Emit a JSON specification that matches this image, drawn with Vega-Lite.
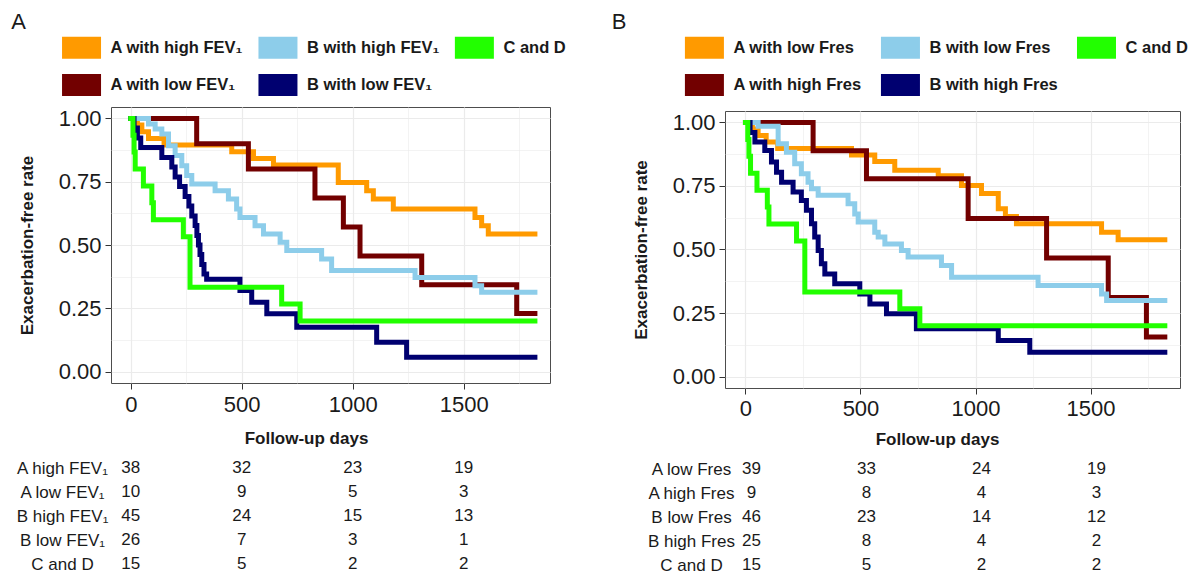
{
  "$schema": "https://vega.github.io/schema/vega-lite/v6.json",
  "padding": {"left": 11, "top": 11, "right": 0, "bottom": 0},
  "config": {
    "font": "Liberation Sans",
    "view": {"stroke": "#4d4d4d", "strokeWidth": 1},
    "axis": {"labelFont": "Liberation Sans", "titleFont": "Liberation Sans"},
    "title": {"font": "Liberation Sans"}
  },
  "datasets": {
    "legA": [
      {"label": "A with high FEV₁", "col": 0, "row": 0},
      {"label": "B with high FEV₁", "col": 1, "row": 0},
      {"label": "C and D", "col": 2, "row": 0},
      {"label": "A with low FEV₁", "col": 0, "row": 1},
      {"label": "B with low FEV₁", "col": 1, "row": 1}
    ],
    "legB": [
      {"label": "A with low Fres", "col": 0, "row": 0},
      {"label": "B with low Fres", "col": 1, "row": 0},
      {"label": "C and D", "col": 2, "row": 0},
      {"label": "A with high Fres", "col": 0, "row": 1},
      {"label": "B with high Fres", "col": 1, "row": 1}
    ],
    "kmA": [
      {"group": "A with high FEV₁", "day": 0, "surv": 1},
      {"group": "A with high FEV₁", "day": 30, "surv": 0.974},
      {"group": "A with high FEV₁", "day": 50, "surv": 0.947},
      {"group": "A with high FEV₁", "day": 80, "surv": 0.921},
      {"group": "A with high FEV₁", "day": 150, "surv": 0.895},
      {"group": "A with high FEV₁", "day": 455, "surv": 0.868},
      {"group": "A with high FEV₁", "day": 553, "surv": 0.842},
      {"group": "A with high FEV₁", "day": 643, "surv": 0.816},
      {"group": "A with high FEV₁", "day": 935, "surv": 0.747},
      {"group": "A with high FEV₁", "day": 1063, "surv": 0.714},
      {"group": "A with high FEV₁", "day": 1093, "surv": 0.682},
      {"group": "A with high FEV₁", "day": 1183, "surv": 0.642},
      {"group": "A with high FEV₁", "day": 1551, "surv": 0.609},
      {"group": "A with high FEV₁", "day": 1581, "surv": 0.576},
      {"group": "A with high FEV₁", "day": 1611, "surv": 0.543},
      {"group": "A with high FEV₁", "day": 1821, "surv": 0.543},
      {"group": "A with low FEV₁", "day": 0, "surv": 1},
      {"group": "A with low FEV₁", "day": 297, "surv": 0.9},
      {"group": "A with low FEV₁", "day": 530, "surv": 0.8},
      {"group": "A with low FEV₁", "day": 830, "surv": 0.686},
      {"group": "A with low FEV₁", "day": 958, "surv": 0.571},
      {"group": "A with low FEV₁", "day": 1033, "surv": 0.457},
      {"group": "A with low FEV₁", "day": 1311, "surv": 0.343},
      {"group": "A with low FEV₁", "day": 1739, "surv": 0.229},
      {"group": "A with low FEV₁", "day": 1821, "surv": 0.229},
      {"group": "B with high FEV₁", "day": 0, "surv": 1},
      {"group": "B with high FEV₁", "day": 80, "surv": 0.978},
      {"group": "B with high FEV₁", "day": 110, "surv": 0.958},
      {"group": "B with high FEV₁", "day": 140, "surv": 0.938},
      {"group": "B with high FEV₁", "day": 170, "surv": 0.892},
      {"group": "B with high FEV₁", "day": 200, "surv": 0.853},
      {"group": "B with high FEV₁", "day": 230, "surv": 0.813},
      {"group": "B with high FEV₁", "day": 252, "surv": 0.774},
      {"group": "B with high FEV₁", "day": 275, "surv": 0.741},
      {"group": "B with high FEV₁", "day": 380, "surv": 0.714},
      {"group": "B with high FEV₁", "day": 440, "surv": 0.682},
      {"group": "B with high FEV₁", "day": 477, "surv": 0.642},
      {"group": "B with high FEV₁", "day": 492, "surv": 0.609},
      {"group": "B with high FEV₁", "day": 560, "surv": 0.576},
      {"group": "B with high FEV₁", "day": 598, "surv": 0.543},
      {"group": "B with high FEV₁", "day": 673, "surv": 0.511},
      {"group": "B with high FEV₁", "day": 703, "surv": 0.478},
      {"group": "B with high FEV₁", "day": 860, "surv": 0.445},
      {"group": "B with high FEV₁", "day": 905, "surv": 0.399},
      {"group": "B with high FEV₁", "day": 1281, "surv": 0.372},
      {"group": "B with high FEV₁", "day": 1551, "surv": 0.339},
      {"group": "B with high FEV₁", "day": 1581, "surv": 0.313},
      {"group": "B with high FEV₁", "day": 1821, "surv": 0.313},
      {"group": "B with low FEV₁", "day": 0, "surv": 1},
      {"group": "B with low FEV₁", "day": 15, "surv": 0.962},
      {"group": "B with low FEV₁", "day": 30, "surv": 0.923},
      {"group": "B with low FEV₁", "day": 45, "surv": 0.885},
      {"group": "B with low FEV₁", "day": 140, "surv": 0.846},
      {"group": "B with low FEV₁", "day": 185, "surv": 0.808},
      {"group": "B with low FEV₁", "day": 200, "surv": 0.769},
      {"group": "B with low FEV₁", "day": 220, "surv": 0.731},
      {"group": "B with low FEV₁", "day": 245, "surv": 0.692},
      {"group": "B with low FEV₁", "day": 262, "surv": 0.654},
      {"group": "B with low FEV₁", "day": 275, "surv": 0.615},
      {"group": "B with low FEV₁", "day": 290, "surv": 0.577},
      {"group": "B with low FEV₁", "day": 298, "surv": 0.538},
      {"group": "B with low FEV₁", "day": 305, "surv": 0.5},
      {"group": "B with low FEV₁", "day": 312, "surv": 0.462},
      {"group": "B with low FEV₁", "day": 320, "surv": 0.423},
      {"group": "B with low FEV₁", "day": 330, "surv": 0.385},
      {"group": "B with low FEV₁", "day": 342, "surv": 0.365},
      {"group": "B with low FEV₁", "day": 492, "surv": 0.32},
      {"group": "B with low FEV₁", "day": 545, "surv": 0.274},
      {"group": "B with low FEV₁", "day": 613, "surv": 0.228},
      {"group": "B with low FEV₁", "day": 748, "surv": 0.175},
      {"group": "B with low FEV₁", "day": 1108, "surv": 0.116},
      {"group": "B with low FEV₁", "day": 1243, "surv": 0.057},
      {"group": "B with low FEV₁", "day": 1821, "surv": 0.057},
      {"group": "C and D", "day": 0, "surv": 1},
      {"group": "C and D", "day": 10, "surv": 0.933},
      {"group": "C and D", "day": 15, "surv": 0.867},
      {"group": "C and D", "day": 20, "surv": 0.8},
      {"group": "C and D", "day": 57, "surv": 0.733},
      {"group": "C and D", "day": 95, "surv": 0.667},
      {"group": "C and D", "day": 102, "surv": 0.6},
      {"group": "C and D", "day": 237, "surv": 0.533},
      {"group": "C and D", "day": 267, "surv": 0.333},
      {"group": "C and D", "day": 680, "surv": 0.267},
      {"group": "C and D", "day": 763, "surv": 0.2},
      {"group": "C and D", "day": 1821, "surv": 0.2}
    ],
    "kmB": [
      {"group": "A with low Fres", "day": 0, "surv": 1},
      {"group": "A with low Fres", "day": 30, "surv": 0.974},
      {"group": "A with low Fres", "day": 55, "surv": 0.949},
      {"group": "A with low Fres", "day": 90, "surv": 0.923},
      {"group": "A with low Fres", "day": 140, "surv": 0.897},
      {"group": "A with low Fres", "day": 461, "surv": 0.872},
      {"group": "A with low Fres", "day": 562, "surv": 0.846},
      {"group": "A with low Fres", "day": 649, "surv": 0.812},
      {"group": "A with low Fres", "day": 838, "surv": 0.79},
      {"group": "A with low Fres", "day": 939, "surv": 0.752},
      {"group": "A with low Fres", "day": 1026, "surv": 0.72},
      {"group": "A with low Fres", "day": 1099, "surv": 0.66},
      {"group": "A with low Fres", "day": 1130, "surv": 0.63},
      {"group": "A with low Fres", "day": 1178, "surv": 0.601},
      {"group": "A with low Fres", "day": 1548, "surv": 0.568},
      {"group": "A with low Fres", "day": 1620, "surv": 0.538},
      {"group": "A with low Fres", "day": 1823, "surv": 0.538},
      {"group": "A with high Fres", "day": 0, "surv": 1},
      {"group": "A with high Fres", "day": 294, "surv": 0.889},
      {"group": "A with high Fres", "day": 526, "surv": 0.778},
      {"group": "A with high Fres", "day": 968, "surv": 0.622},
      {"group": "A with high Fres", "day": 1309, "surv": 0.467},
      {"group": "A with high Fres", "day": 1577, "surv": 0.311},
      {"group": "A with high Fres", "day": 1743, "surv": 0.156},
      {"group": "A with high Fres", "day": 1823, "surv": 0.156},
      {"group": "B with low Fres", "day": 0, "surv": 1},
      {"group": "B with low Fres", "day": 55, "surv": 0.985},
      {"group": "B with low Fres", "day": 142, "surv": 0.916},
      {"group": "B with low Fres", "day": 178, "surv": 0.883},
      {"group": "B with low Fres", "day": 214, "surv": 0.837},
      {"group": "B with low Fres", "day": 243, "surv": 0.798},
      {"group": "B with low Fres", "day": 272, "surv": 0.765},
      {"group": "B with low Fres", "day": 287, "surv": 0.739},
      {"group": "B with low Fres", "day": 316, "surv": 0.713},
      {"group": "B with low Fres", "day": 446, "surv": 0.68},
      {"group": "B with low Fres", "day": 475, "surv": 0.64},
      {"group": "B with low Fres", "day": 490, "surv": 0.608},
      {"group": "B with low Fres", "day": 562, "surv": 0.568},
      {"group": "B with low Fres", "day": 577, "surv": 0.549},
      {"group": "B with low Fres", "day": 606, "surv": 0.522},
      {"group": "B with low Fres", "day": 678, "surv": 0.496},
      {"group": "B with low Fres", "day": 707, "surv": 0.47},
      {"group": "B with low Fres", "day": 852, "surv": 0.437},
      {"group": "B with low Fres", "day": 896, "surv": 0.391},
      {"group": "B with low Fres", "day": 1272, "surv": 0.358},
      {"group": "B with low Fres", "day": 1548, "surv": 0.325},
      {"group": "B with low Fres", "day": 1570, "surv": 0.299},
      {"group": "B with low Fres", "day": 1823, "surv": 0.299},
      {"group": "B with high Fres", "day": 0, "surv": 1},
      {"group": "B with high Fres", "day": 20, "surv": 0.96},
      {"group": "B with high Fres", "day": 41, "surv": 0.923},
      {"group": "B with high Fres", "day": 84, "surv": 0.89},
      {"group": "B with high Fres", "day": 113, "surv": 0.844},
      {"group": "B with high Fres", "day": 135, "surv": 0.804},
      {"group": "B with high Fres", "day": 157, "surv": 0.765},
      {"group": "B with high Fres", "day": 207, "surv": 0.726},
      {"group": "B with high Fres", "day": 243, "surv": 0.693},
      {"group": "B with high Fres", "day": 265, "surv": 0.654},
      {"group": "B with high Fres", "day": 287, "surv": 0.601},
      {"group": "B with high Fres", "day": 301, "surv": 0.549},
      {"group": "B with high Fres", "day": 316, "surv": 0.496},
      {"group": "B with high Fres", "day": 330, "surv": 0.444},
      {"group": "B with high Fres", "day": 345, "surv": 0.404},
      {"group": "B with high Fres", "day": 388, "surv": 0.365},
      {"group": "B with high Fres", "day": 497, "surv": 0.325},
      {"group": "B with high Fres", "day": 541, "surv": 0.286},
      {"group": "B with high Fres", "day": 613, "surv": 0.247},
      {"group": "B with high Fres", "day": 743, "surv": 0.188},
      {"group": "B with high Fres", "day": 1099, "surv": 0.142},
      {"group": "B with high Fres", "day": 1236, "surv": 0.096},
      {"group": "B with high Fres", "day": 1823, "surv": 0.096},
      {"group": "C and D", "day": 0, "surv": 1},
      {"group": "C and D", "day": 10, "surv": 0.933},
      {"group": "C and D", "day": 15, "surv": 0.867},
      {"group": "C and D", "day": 22, "surv": 0.8},
      {"group": "C and D", "day": 50, "surv": 0.733},
      {"group": "C and D", "day": 95, "surv": 0.667},
      {"group": "C and D", "day": 102, "surv": 0.6},
      {"group": "C and D", "day": 222, "surv": 0.533},
      {"group": "C and D", "day": 258, "surv": 0.333},
      {"group": "C and D", "day": 671, "surv": 0.267},
      {"group": "C and D", "day": 758, "surv": 0.2},
      {"group": "C and D", "day": 1823, "surv": 0.2}
    ],
    "riskA": [
      {"row": "A high FEV₁", "day": 0, "n": 38}, {"row": "A high FEV₁", "day": 500, "n": 32}, {"row": "A high FEV₁", "day": 1000, "n": 23}, {"row": "A high FEV₁", "day": 1500, "n": 19},
      {"row": "A low FEV₁", "day": 0, "n": 10}, {"row": "A low FEV₁", "day": 500, "n": 9}, {"row": "A low FEV₁", "day": 1000, "n": 5}, {"row": "A low FEV₁", "day": 1500, "n": 3},
      {"row": "B high FEV₁", "day": 0, "n": 45}, {"row": "B high FEV₁", "day": 500, "n": 24}, {"row": "B high FEV₁", "day": 1000, "n": 15}, {"row": "B high FEV₁", "day": 1500, "n": 13},
      {"row": "B low FEV₁", "day": 0, "n": 26}, {"row": "B low FEV₁", "day": 500, "n": 7}, {"row": "B low FEV₁", "day": 1000, "n": 3}, {"row": "B low FEV₁", "day": 1500, "n": 1},
      {"row": "C and D", "day": 0, "n": 15}, {"row": "C and D", "day": 500, "n": 5}, {"row": "C and D", "day": 1000, "n": 2}, {"row": "C and D", "day": 1500, "n": 2}
    ],
    "riskB": [
      {"row": "A low Fres", "day": 0, "n": 39}, {"row": "A low Fres", "day": 500, "n": 33}, {"row": "A low Fres", "day": 1000, "n": 24}, {"row": "A low Fres", "day": 1500, "n": 19},
      {"row": "A high Fres", "day": 0, "n": 9}, {"row": "A high Fres", "day": 500, "n": 8}, {"row": "A high Fres", "day": 1000, "n": 4}, {"row": "A high Fres", "day": 1500, "n": 3},
      {"row": "B low Fres", "day": 0, "n": 46}, {"row": "B low Fres", "day": 500, "n": 23}, {"row": "B low Fres", "day": 1000, "n": 14}, {"row": "B low Fres", "day": 1500, "n": 12},
      {"row": "B high Fres", "day": 0, "n": 25}, {"row": "B high Fres", "day": 500, "n": 8}, {"row": "B high Fres", "day": 1000, "n": 4}, {"row": "B high Fres", "day": 1500, "n": 2},
      {"row": "C and D", "day": 0, "n": 15}, {"row": "C and D", "day": 500, "n": 5}, {"row": "C and D", "day": 1000, "n": 2}, {"row": "C and D", "day": 1500, "n": 2}
    ]
  },
  "resolve": {"scale": {"color": "independent"}},
  "spacing": 45,
  "hconcat": [
    {
      "title": {"text": "A", "anchor": "start", "fontSize": 22, "fontWeight": "normal", "color": "#1a1a1a", "offset": -5, "dx": -5},
      "spacing": 9,
      "vconcat": [
        {
          "width": 439,
          "height": 67.4,
          "view": {"stroke": null, "fill": "transparent"},
          "data": {"name": "legA"},
          "encoding": {
            "x": {"field": "col", "type": "quantitative", "scale": {"domain": [0.150, 2.385], "nice": false, "zero": false}, "axis": null},
            "y": {"field": "row", "type": "quantitative", "scale": {"domain": [-0.5, 1.302], "nice": false, "zero": false, "reverse": true}, "axis": null}
          },
          "layer": [
            {
              "mark": {"type": "point", "shape": "M-1,-0.564H1V0.564H-1Z", "size": 1521, "filled": true, "opacity": 1},
              "encoding": {
                "color": {
                  "field": "label", "type": "nominal",
                  "scale": {
                    "domain": ["A with high FEV₁", "B with high FEV₁", "C and D", "A with low FEV₁", "B with low FEV₁"],
                    "range": ["#FF9A00", "#8DCDEA", "#22FF00", "#720000", "#000070"]
                  },
                  "legend": null
                }
              }
            },
            {
              "mark": {"type": "text", "align": "left", "baseline": "middle", "dx": 29, "fontSize": 16.5, "fontWeight": "bold", "color": "#1a1a1a", "font": "Liberation Sans"},
              "encoding": {"text": {"field": "label"}}
            }
          ]
        },
        {
          "width": 439,
          "height": 276,
          "data": {"name": "kmA"},
          "mark": {"type": "line", "interpolate": "step-after", "strokeWidth": 5, "strokeJoin": "miter", "strokeCap": "square"},
          "encoding": {
            "x": {
              "field": "day", "type": "quantitative",
              "scale": {"domain": [-89, 1889], "nice": false, "zero": false},
              "axis": {
                "values": [0, 250, 500, 750, 1000, 1250, 1500, 1750],
                "format": "d",
                "labelExpr": "datum.value % 500 === 0 ? datum.label : ''",
                "labelOverlap": false,
                "labelFontSize": 22, "labelColor": "#1a1a1a", "labelPadding": 5,
                "tickSize": 6, "tickColor": "#333333",
                "tickOpacity": {"condition": {"test": "datum.value % 500 === 0", "value": 1}, "value": 0},
                "domain": false,
                "grid": true, "gridColor": "#EBEBEB",
                "gridWidth": {"condition": {"test": "datum.value % 500 === 0", "value": 1.2}, "value": 0.6},
                "title": "Follow-up days", "titleFontSize": 17, "titleFontWeight": "bold", "titleColor": "#1a1a1a",
                "titlePadding": 15, "titleX": 195
              }
            },
            "y": {
              "field": "surv", "type": "quantitative",
              "scale": {"domain": [-0.045, 1.045], "nice": false, "zero": false},
              "axis": {
                "values": [0, 0.125, 0.25, 0.375, 0.5, 0.625, 0.75, 0.875, 1],
                "labelExpr": "round(datum.value * 8) % 2 === 0 ? format(datum.value, '.2f') : ''",
                "labelOverlap": false,
                "labelFontSize": 22, "labelColor": "#1a1a1a", "labelPadding": 4,
                "tickSize": 6, "tickColor": "#333333",
                "tickOpacity": {"condition": {"test": "round(datum.value * 8) % 2 === 0", "value": 1}, "value": 0},
                "domain": false,
                "grid": true, "gridColor": "#EBEBEB",
                "gridWidth": {"condition": {"test": "round(datum.value * 8) % 2 === 0", "value": 1.2}, "value": 0.6},
                "title": "Exacerbation-free rate", "titleFontSize": 17, "titleFontWeight": "bold", "titleColor": "#1a1a1a",
                "titlePadding": 22
              }
            },
            "color": {
              "field": "group", "type": "nominal",
              "scale": {
                "domain": ["A with high FEV₁", "B with high FEV₁", "C and D", "A with low FEV₁", "B with low FEV₁"],
                "range": ["#FFA500", "#87CEEB", "#00FF00", "#8B0000", "#000080"]
              },
              "legend": null
            }
          }
        },
        {
          "width": 439,
          "height": 120,
          "view": {"stroke": null},
          "data": {"name": "riskA"},
          "mark": {"type": "text", "fontSize": 17, "color": "#1a1a1a", "font": "Liberation Sans"},
          "encoding": {
            "x": {"field": "day", "type": "quantitative", "scale": {"domain": [-89, 1889], "nice": false, "zero": false}, "axis": null},
            "y": {
              "field": "row", "type": "nominal",
              "sort": ["A high FEV₁", "A low FEV₁", "B high FEV₁", "B low FEV₁", "C and D"],
              "axis": {"title": null, "domain": false, "ticks": false, "tickSize": 0, "grid": false, "labelAlign": "center", "labelPadding": 49, "labelFontSize": 17, "labelColor": "#1a1a1a"}
            },
            "text": {"field": "n", "type": "quantitative"}
          }
        }
      ]
    },
    {
      "title": {"text": "B", "anchor": "start", "fontSize": 22, "fontWeight": "normal", "color": "#1a1a1a", "offset": -5, "dx": -20},
      "spacing": 9,
      "vconcat": [
        {
          "width": 455,
          "height": 71.4,
          "view": {"stroke": null, "fill": "transparent"},
          "data": {"name": "legB"},
          "encoding": {
            "x": {"field": "col", "type": "quantitative", "scale": {"domain": [0.105, 2.426], "nice": false, "zero": false}, "axis": null},
            "y": {"field": "row", "type": "quantitative", "scale": {"domain": [-0.5, 1.409], "nice": false, "zero": false, "reverse": true}, "axis": null}
          },
          "layer": [
            {
              "mark": {"type": "point", "shape": "M-1,-0.564H1V0.564H-1Z", "size": 1521, "filled": true, "opacity": 1},
              "encoding": {
                "color": {
                  "field": "label", "type": "nominal",
                  "scale": {
                    "domain": ["A with low Fres", "B with low Fres", "C and D", "A with high Fres", "B with high Fres"],
                    "range": ["#FF9A00", "#8DCDEA", "#22FF00", "#720000", "#000070"]
                  },
                  "legend": null
                }
              }
            },
            {
              "mark": {"type": "text", "align": "left", "baseline": "middle", "dx": 29, "fontSize": 16.5, "fontWeight": "bold", "color": "#1a1a1a", "font": "Liberation Sans"},
              "encoding": {"text": {"field": "label"}}
            }
          ]
        },
        {
          "width": 455,
          "height": 277,
          "data": {"name": "kmB"},
          "mark": {"type": "line", "interpolate": "step-after", "strokeWidth": 5, "strokeJoin": "miter", "strokeCap": "square"},
          "encoding": {
            "x": {
              "field": "day", "type": "quantitative",
              "scale": {"domain": [-89, 1889], "nice": false, "zero": false},
              "axis": {
                "values": [0, 250, 500, 750, 1000, 1250, 1500, 1750],
                "format": "d",
                "labelExpr": "datum.value % 500 === 0 ? datum.label : ''",
                "labelOverlap": false,
                "labelFontSize": 22, "labelColor": "#1a1a1a", "labelPadding": 4,
                "tickSize": 6, "tickColor": "#333333",
                "tickOpacity": {"condition": {"test": "datum.value % 500 === 0", "value": 1}, "value": 0},
                "domain": false,
                "grid": true, "gridColor": "#EBEBEB",
                "gridWidth": {"condition": {"test": "datum.value % 500 === 0", "value": 1.2}, "value": 0.6},
                "title": "Follow-up days", "titleFontSize": 17, "titleFontWeight": "bold", "titleColor": "#1a1a1a",
                "titlePadding": 12, "titleX": 212
              }
            },
            "y": {
              "field": "surv", "type": "quantitative",
              "scale": {"domain": [-0.045, 1.045], "nice": false, "zero": false},
              "axis": {
                "values": [0, 0.125, 0.25, 0.375, 0.5, 0.625, 0.75, 0.875, 1],
                "labelExpr": "round(datum.value * 8) % 2 === 0 ? format(datum.value, '.2f') : ''",
                "labelOverlap": false,
                "labelFontSize": 22, "labelColor": "#1a1a1a", "labelPadding": 4,
                "tickSize": 6, "tickColor": "#333333",
                "tickOpacity": {"condition": {"test": "round(datum.value * 8) % 2 === 0", "value": 1}, "value": 0},
                "domain": false,
                "grid": true, "gridColor": "#EBEBEB",
                "gridWidth": {"condition": {"test": "round(datum.value * 8) % 2 === 0", "value": 1.2}, "value": 0.6},
                "title": "Exacerbation-free rate", "titleFontSize": 17, "titleFontWeight": "bold", "titleColor": "#1a1a1a",
                "titlePadding": 22
              }
            },
            "color": {
              "field": "group", "type": "nominal",
              "scale": {
                "domain": ["A with low Fres", "B with low Fres", "C and D", "A with high Fres", "B with high Fres"],
                "range": ["#FFA500", "#87CEEB", "#00FF00", "#8B0000", "#000080"]
              },
              "legend": null
            }
          }
        },
        {
          "width": 455,
          "height": 120,
          "view": {"stroke": null},
          "data": {"name": "riskB"},
          "mark": {"type": "text", "fontSize": 17, "color": "#1a1a1a", "font": "Liberation Sans", "dx": 6},
          "encoding": {
            "x": {"field": "day", "type": "quantitative", "scale": {"domain": [-89, 1889], "nice": false, "zero": false}, "axis": null},
            "y": {
              "field": "row", "type": "nominal",
              "sort": ["A low Fres", "A high Fres", "B low Fres", "B high Fres", "C and D"],
              "axis": {"title": null, "domain": false, "ticks": false, "tickSize": 0, "grid": false, "labelAlign": "center", "labelPadding": 34, "labelFontSize": 17, "labelColor": "#1a1a1a"}
            },
            "text": {"field": "n", "type": "quantitative"}
          }
        }
      ]
    }
  ]
}
